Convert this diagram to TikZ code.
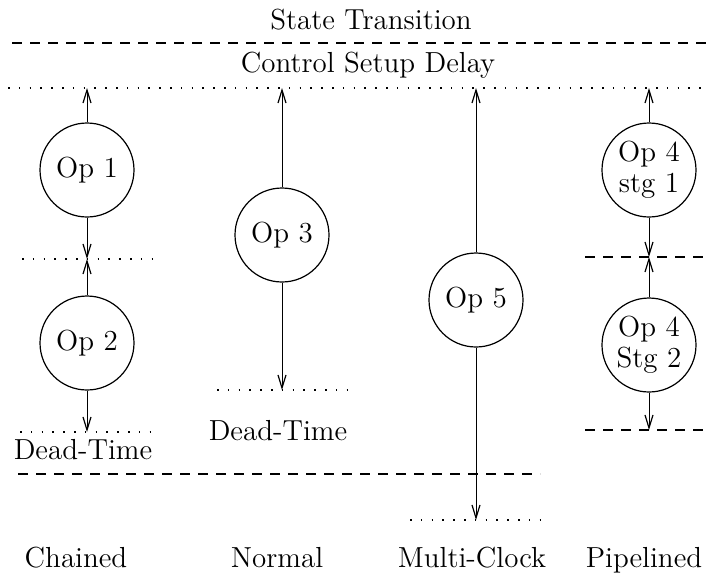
\documentclass[tikz,border=0pt]{standalone}
\usetikzlibrary{arrows.meta}
\begin{document}
\begin{tikzpicture}[x=0.5pt,y=-0.5pt,
  font=\fontsize{14.5}{17.5}\selectfont,
  op/.style={draw, circle, minimum size=47pt, inner sep=0pt, line width=0.6pt, align=center},
  arr/.style={-{Straight Barb[length=6.5pt,width=4pt,line width=0.6pt]}, line width=0.5pt},
  dashln/.style={dash pattern=on 5pt off 4pt, line width=0.6pt},
  dotln/.style={dash pattern=on 0.8pt off 4.6pt, line width=0.8pt},
  txt/.style={inner sep=0pt, anchor=base}]
\useasboundingbox (0,0) rectangle (707,575);

% header
\node[txt] (st) at (371,29) {State Transition};
\draw[dashln] (12,43) -- (707,43);
\node[txt] (csd) at (368,72) {Control Setup Delay};
\draw[dotln] (8,88) -- (707,88);
\coordinate (t1) at (87,88);
\coordinate (t3) at (282,88);
\coordinate (t5) at (476,88);
\coordinate (t4) at (649,88);

% Chained
\node[op] (op1) at (87,170) {Op 1};
\node[op] (op2) at (87,343) {Op 2};
\coordinate (c1) at (87,259);
\coordinate (c2) at (87,432);
\draw[dotln] (22,259) -- (155,259);
\draw[dotln] (20,432) -- (155,432);
\draw[arr] (op1.north) -- (t1);
\draw[arr] (op1.south) -- (c1);
\draw[arr] (op2.north) -- (c1);
\draw[arr] (op2.south) -- (c2);
\node[txt] (dt1) at (83,459) {Dead-Time};

% Normal
\node[op] (op3) at (282,235) {Op 3};
\coordinate (n1) at (282,390);
\draw[dotln] (217,390) -- (348,390);
\draw[arr] (op3.north) -- (t3);
\draw[arr] (op3.south) -- (n1);
\node[txt] (dt2) at (278,440) {Dead-Time};

% long dashed line
\draw[dashln] (18,474) -- (540,474);

% Multi-Clock
\node[op] (op5) at (476,300) {Op 5};
\coordinate (m1) at (476,520);
\draw[dotln] (410,520) -- (542,520);
\draw[arr] (op5.north) -- (t5);
\draw[arr] (op5.south) -- (m1);

% Pipelined
\node[op] (op4a) at (649,170) {Op 4\\[-2pt]stg 1};
\node[op] (op4b) at (649,345) {Op 4\\[-2pt]Stg 2};
\coordinate (p1) at (649,257);
\coordinate (p2) at (649,430);
\draw[dashln] (585,257) -- (707,257);
\draw[dashln] (585,430) -- (707,430);
\draw[arr] (op4a.north) -- (t4);
\draw[arr] (op4a.south) -- (p1);
\draw[arr] (op4b.north) -- (p1);
\draw[arr] (op4b.south) -- (p2);

% column labels
\node[txt] (lc) at (76,567) {Chained};
\node[txt] (ln) at (277,567) {Normal};
\node[txt] (lm) at (472,567) {Multi-Clock};
\node[txt] (lp) at (644,567) {Pipelined};
\end{tikzpicture}
\end{document}
